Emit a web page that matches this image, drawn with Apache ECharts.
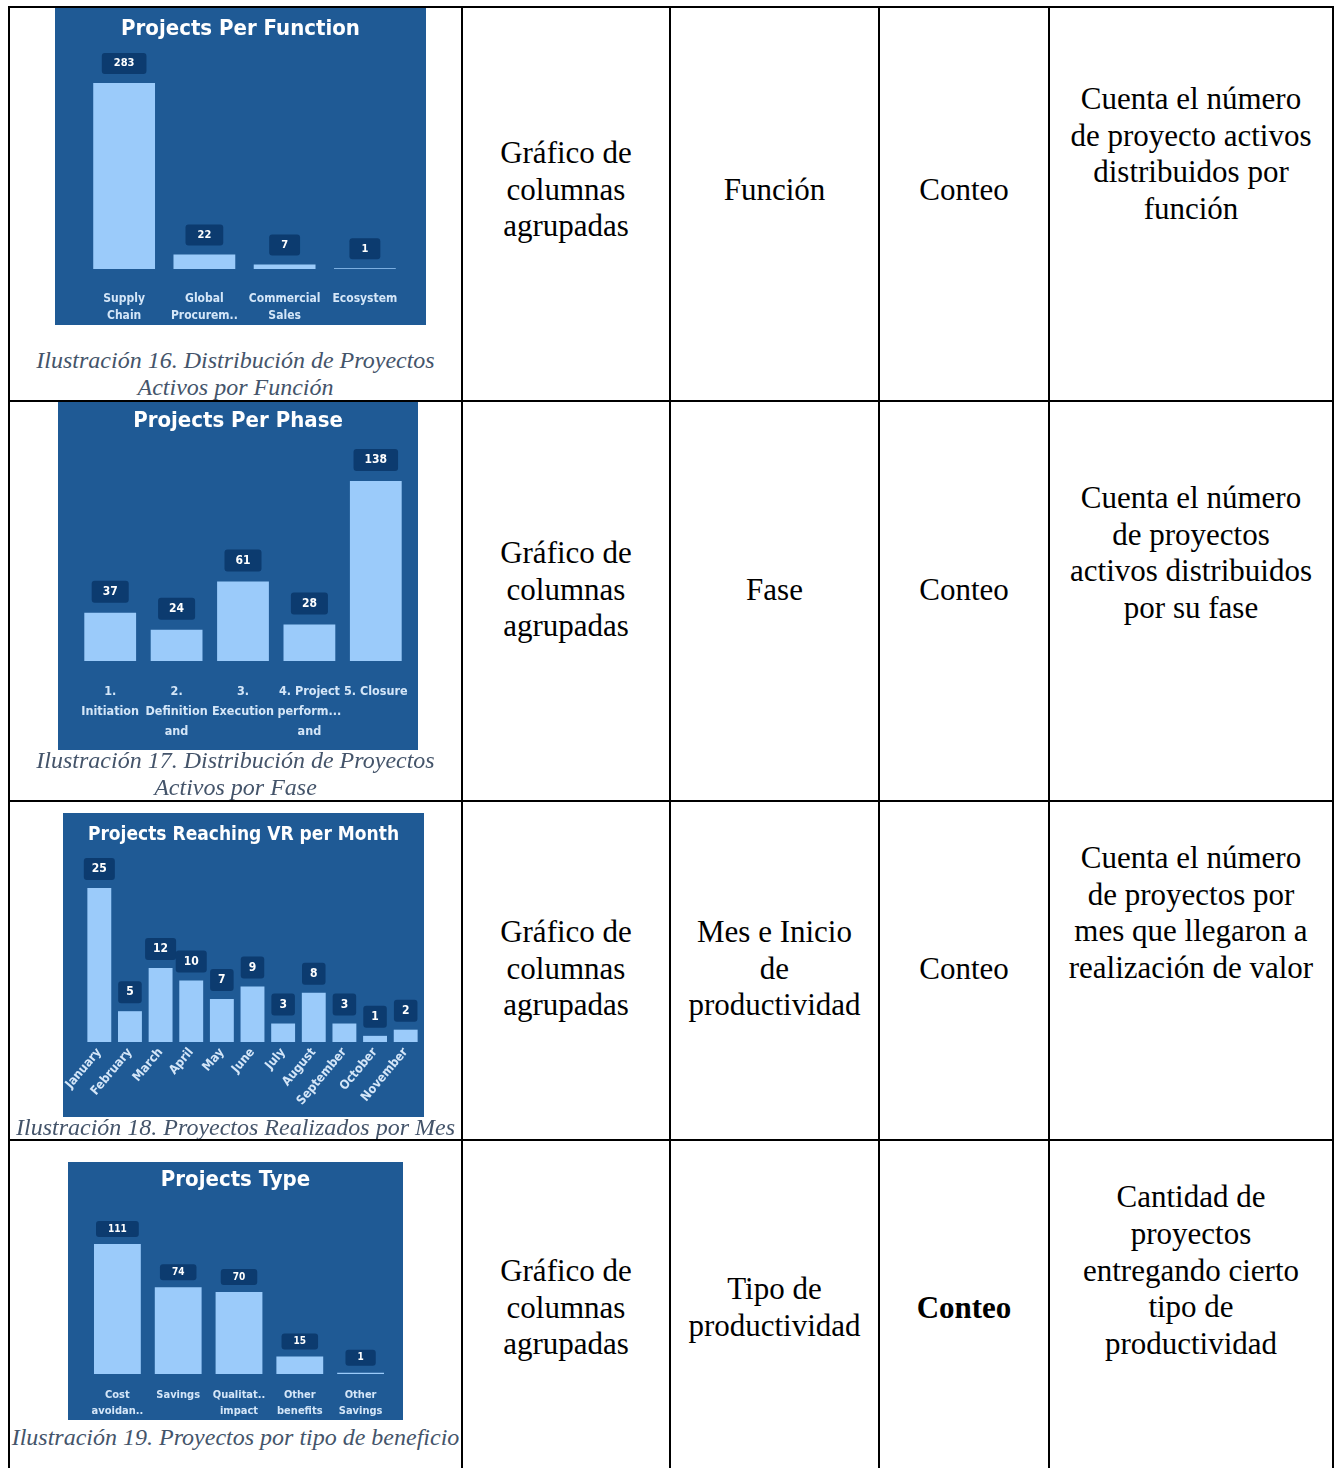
<!DOCTYPE html>
<html>
<head>
<meta charset="utf-8">
<script src="https://cdn.jsdelivr.net/npm/echarts@6/dist/echarts.min.js"></script>
<style>
body{margin:0;background:#fff;width:1339px;height:1468px;overflow:hidden;position:relative;font-family:'Liberation Serif','Times New Roman',serif;}
.ln{position:absolute;background:#000;z-index:3;}
.cell{position:absolute;text-align:center;font-size:31px;line-height:36.8px;color:#000;white-space:nowrap;}
.cap{position:absolute;left:10px;width:451px;text-align:center;font-style:italic;font-size:24px;line-height:27px;color:#44546A;white-space:nowrap;z-index:2;}
.chart{position:absolute;}
</style>
</head>
<body>
<!-- grid lines of the table -->
<div class="ln" style="left:8px;top:6px;width:2px;height:1462px"></div>
<div class="ln" style="left:461px;top:6px;width:2px;height:1462px"></div>
<div class="ln" style="left:669px;top:6px;width:2px;height:1462px"></div>
<div class="ln" style="left:878px;top:6px;width:2px;height:1462px"></div>
<div class="ln" style="left:1048px;top:6px;width:2px;height:1462px"></div>
<div class="ln" style="left:1332px;top:6px;width:2px;height:1462px"></div>
<div class="ln" style="left:8px;top:6px;width:1326px;height:2px"></div>
<div class="ln" style="left:8px;top:400px;width:1326px;height:2px"></div>
<div class="ln" style="left:8px;top:800px;width:1326px;height:2px"></div>
<div class="ln" style="left:8px;top:1139px;width:1326px;height:2px"></div>

<div id="c1" class="chart" style="left:55px;top:8px;width:371px;height:317px"></div>
<div id="c2" class="chart" style="left:58px;top:402px;width:360px;height:348px"></div>
<div id="c3" class="chart" style="left:63px;top:813px;width:361px;height:304px"></div>
<div id="c4" class="chart" style="left:68px;top:1162px;width:335px;height:258px"></div>

<div class="cap" style="top:346.5px">Ilustración 16. Distribución de Proyectos<br>Activos por Función</div>
<div class="cap" style="top:746.5px">Ilustración 17. Distribución de Proyectos<br>Activos por Fase</div>
<div class="cap" style="top:1113.5px">Ilustración 18. Proyectos Realizados por Mes</div>
<div class="cap" style="top:1423.5px">Ilustración 19. Proyectos por tipo de beneficio</div>

<!-- row 1 -->
<div class="cell" style="left:463px;width:206px;top:134.8px">Gráfico de<br>columnas<br>agrupadas</div>
<div class="cell" style="left:671px;width:207px;top:171.6px">Función</div>
<div class="cell" style="left:880px;width:168px;top:171.6px">Conteo</div>
<div class="cell" style="left:1050px;width:282px;top:80.9px">Cuenta el número<br>de proyecto activos<br>distribuidos por<br>función</div>
<!-- row 2 -->
<div class="cell" style="left:463px;width:206px;top:534.8px">Gráfico de<br>columnas<br>agrupadas</div>
<div class="cell" style="left:671px;width:207px;top:571.6px">Fase</div>
<div class="cell" style="left:880px;width:168px;top:571.6px">Conteo</div>
<div class="cell" style="left:1050px;width:282px;top:479.9px">Cuenta el número<br>de proyectos<br>activos distribuidos<br>por su fase</div>
<!-- row 3 -->
<div class="cell" style="left:463px;width:206px;top:913.8px">Gráfico de<br>columnas<br>agrupadas</div>
<div class="cell" style="left:671px;width:207px;top:913.8px">Mes e Inicio<br>de<br>productividad</div>
<div class="cell" style="left:880px;width:168px;top:950.6px">Conteo</div>
<div class="cell" style="left:1050px;width:282px;top:839.9px">Cuenta el número<br>de proyectos por<br>mes que llegaron a<br>realización de valor</div>
<!-- row 4 -->
<div class="cell" style="left:463px;width:206px;top:1252.8px">Gráfico de<br>columnas<br>agrupadas</div>
<div class="cell" style="left:671px;width:207px;top:1271.2px">Tipo de<br>productividad</div>
<div class="cell" style="left:880px;width:168px;top:1289.6px;font-weight:bold">Conteo</div>
<div class="cell" style="left:1050px;width:282px;top:1179px">Cantidad de<br>proyectos<br>entregando cierto<br>tipo de<br>productividad</div>

<script>
// datos de los cuatro graficos
var functionCats = ['Supply\nChain', 'Global\nProcurem..', 'Commercial\nSales', 'Ecosystem'];
var functionVals = [283, 22, 7, 1];

var phaseCats = ['1.\nInitiation', '2.\nDefinition\nand', '3.\nExecution', '4. Project\nperform...\nand', '5. Closure'];
var phaseVals = [37, 24, 61, 28, 138];

var monthCats = ['January', 'February', 'March', 'April', 'May', 'June', 'July', 'August', 'September', 'October', 'November'];
var monthVals = [25, 5, 12, 10, 7, 9, 3, 8, 3, 1, 2];

var typeCats = ['Cost\navoidan..', 'Savings', 'Qualitat..\nimpact', 'Other\nbenefits', 'Other\nSavings'];
var typeVals = [111, 74, 70, 15, 1];

var narrow = "'Liberation Sans Narrow','DejaVu Sans Condensed',sans-serif";

function drawBars(id, title, cats, vals, cfg) {
	var myChart = echarts.init(document.getElementById(id));
	var option = {
		backgroundColor : '#1F5A95',
		animation : false,
		title : {
			text : title,
			left : 'center',
			top : cfg.titleTop,
			textStyle : {
				color : '#fff',
				fontFamily : narrow,
				fontWeight : 'bold',
				fontSize : cfg.titleSize
			}
		},
		grid : {
			left : cfg.grid[0],
			right : cfg.grid[1],
			top : cfg.grid[2],
			bottom : cfg.grid[3],
			containLabel : false,
			outerBoundsMode : 'none'
		},
		xAxis : {
			type : 'category',
			data : cats,
			axisLine : { show : false },
			axisTick : { show : false },
			axisLabel : {
				interval : 0,
				color : '#D4E6F8',
				fontFamily : narrow,
				fontWeight : 'bold',
				fontSize : cfg.axisSize,
				lineHeight : cfg.axisLh,
				margin : cfg.axisMargin,
				rotate : cfg.rotate || 0
			}
		},
		yAxis : {
			type : 'value',
			min : 0,
			max : Math.max.apply(null, vals),
			show : false,
			splitLine : { show : false }
		},
		series : [ {
			type : 'bar',
			data : vals,
			barCategoryGap : cfg.gap,
			itemStyle : { color : '#9BCBFA' },
			label : {
				show : true,
				position : 'top',
				distance : cfg.lblDist,
				color : '#fff',
				fontFamily : narrow,
				fontWeight : 'bold',
				fontSize : cfg.lblSize,
				backgroundColor : '#0C3B6F',
				padding : cfg.lblPad,
				borderRadius : 3
			}
		} ]
	};
	myChart.setOption(option);
}

drawBars('c1', 'Projects Per Function', functionCats, functionVals, {
	titleTop : 5, titleSize : 22, grid : [29, 21, 75, 56], gap : '23%',
	axisSize : 12, axisLh : 17, axisMargin : 21,
	lblDist : 9, lblSize : 11, lblPad : [5, 12]
});
drawBars('c2', 'Projects Per Phase', phaseCats, phaseVals, {
	titleTop : 3, titleSize : 22, grid : [19, 9, 79, 89], gap : '22%',
	axisSize : 12.5, axisLh : 20, axisMargin : 21,
	lblDist : 10, lblSize : 12, lblPad : [5, 11]
});
drawBars('c3', 'Projects Reaching VR per Month', monthCats, monthVals, {
	titleTop : 8, titleSize : 19, grid : [21, 3, 75, 75], gap : '22%',
	axisSize : 12.5, axisLh : 14, axisMargin : 8, rotate : 50,
	lblDist : 8, lblSize : 12, lblPad : [5, 8]
});
drawBars('c4', 'Projects Type', typeCats, typeVals, {
	titleTop : 2, titleSize : 22, grid : [19, 12, 82, 46], gap : '23%',
	axisSize : 11, axisLh : 16, axisMargin : 13,
	lblDist : 7, lblSize : 10, lblPad : [3, 12]
});
</script>
</body>
</html>
